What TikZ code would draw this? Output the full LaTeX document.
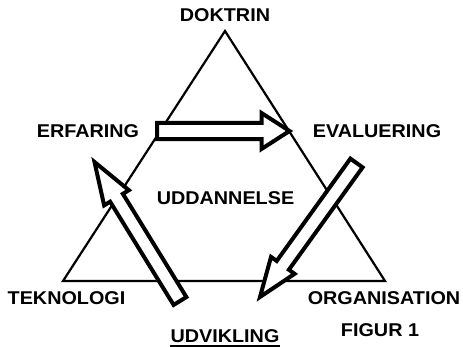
\documentclass[tikz,border=0pt]{standalone}
\usepackage{fontspec}
\newfontfamily\lblfont[FakeStretch=1.07]{Liberation Sans}
\usetikzlibrary{calc}

% block arrow: tail, tip, shaft half width, head half width, head length
\newcommand{\blkarrow}[5]{%
  \coordinate (#1-h) at ($(#2)!#5!(#1)$);
  \draw[blockarrow]
    ($(#1)!#3!90:(#2)$) --
    ($(#1-h)!#3!90:(#2)$) --
    ($(#1-h)!#4!90:(#2)$) --
    (#2) --
    ($(#1-h)!#4!-90:(#2)$) --
    ($(#1-h)!#3!-90:(#2)$) --
    ($(#1)!#3!-90:(#2)$) -- cycle;
}

\begin{document}
\begin{tikzpicture}[
    x=1pt, y=-1pt,
    lbl/.style={font=\lblfont\bfseries\fontsize{18.5}{20}\selectfont, inner sep=0pt},
    tri/.style={draw, line width=2.2pt, line join=miter},
    blockarrow/.style={draw, line width=4pt, fill=white, line join=miter},
]
\useasboundingbox (0,0) rectangle (463,347);

% =====================================================
% Triangle
% =====================================================

\coordinate (top) at (225,31);
\coordinate (left) at (63,281);
\coordinate (right) at (385,281);

\draw[tri] (top) -- (right) -- (left) -- cycle;

% =====================================================
% Labels
% =====================================================

\node[lbl] (dok) at (225,15) {DOKTRIN};
\node[lbl] (erf) at (88,131) {ERFARING};
\node[lbl] (eval) at (377,131) {EVALUERING};
\node[lbl] (udd) at (225.5,198) {UDDANNELSE};
\node[lbl] (tek) at (66.5,298) {TEKNOLOGI};
\node[lbl] (org) at (384,298) {ORGANISATION};
\node[lbl] (udv) at (225,336) {UDVIKLING};
\node[lbl] (fig) at (380,330) {FIGUR 1};

\draw[line width=2pt]
    ([yshift=-3.5pt]udv.south west)
    --
    ([yshift=-3.5pt]udv.south east);

% =====================================================
% Block arrows
% =====================================================

\coordinate (a1) at (157,131);
\coordinate (b1) at (289.5,131);
\blkarrow{a1}{b1}{8.2pt}{18pt}{28pt}

\coordinate (a2) at (356.5,163);
\coordinate (b2) at (260,297);
\blkarrow{a2}{b2}{7.5pt}{14.5pt}{39pt}

\coordinate (a3) at (180,301);
\coordinate (b3) at (94.5,162);
\blkarrow{a3}{b3}{7.5pt}{14.5pt}{42pt}

\end{tikzpicture}
\end{document}
